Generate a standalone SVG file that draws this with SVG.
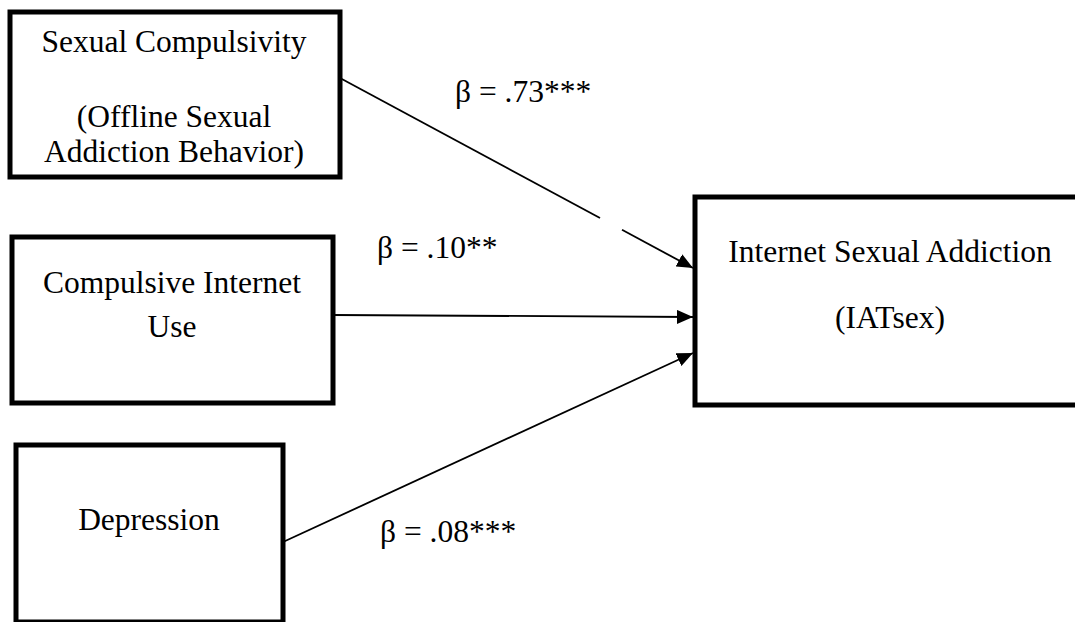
<svg xmlns="http://www.w3.org/2000/svg" width="1075" height="622" viewBox="0 0 1075 622">
<style>
.box{fill:#fff;stroke:#000;stroke-width:5}
.t{font-family:"Liberation Serif","Times New Roman",serif;font-size:31.5px;fill:#000;text-anchor:middle}
.lbl{font-family:"Liberation Serif","Times New Roman",serif;font-size:31.5px;fill:#000}
.edge{stroke:#000;stroke-width:1.8;fill:none}
</style>
<defs>
<marker id="arr" markerUnits="userSpaceOnUse" markerWidth="18" markerHeight="14" refX="16" refY="7" orient="auto">
<path d="M0,0 L16,7 L0,14 Z" fill="#000"/>
</marker>
</defs>
<rect width="1075" height="622" fill="#fff"/>
<g id="n-sexual-compulsivity">
<rect class="box" x="10" y="12" width="330" height="165"/>
<text class="t" x="174" y="52">Sexual Compulsivity</text>
<text class="t" x="174" y="127">(Offline Sexual</text>
<text class="t" x="174" y="162">Addiction Behavior)</text>
</g>
<g id="n-compulsive-internet-use">
<rect class="box" x="12" y="237" width="321" height="166"/>
<text class="t" x="172" y="293">Compulsive Internet</text>
<text class="t" x="172" y="337">Use</text>
</g>
<g id="n-depression">
<rect class="box" x="16" y="445" width="267" height="177"/>
<text class="t" x="149" y="530">Depression</text>
</g>
<g id="n-internet-sexual-addiction">
<rect class="box" x="695" y="197" width="420" height="208"/>
<text class="t" x="890" y="262">Internet Sexual Addiction</text>
<text class="t" x="890" y="328">(IATsex)</text>
</g>
<g id="connectors">
<line class="edge" x1="340" y1="78" x2="600" y2="218"/>
<line class="edge" x1="622" y1="229.8" x2="693" y2="268" marker-end="url(#arr)"/>
<line class="edge" x1="333" y1="315" x2="693" y2="317" marker-end="url(#arr)"/>
<line class="edge" x1="283" y1="542" x2="693" y2="353" marker-end="url(#arr)"/>
</g>
<g id="labels">
<text class="lbl" x="455" y="102">β = .73***</text>
<text class="lbl" x="377" y="258">β = .10**</text>
<text class="lbl" x="380" y="542">β = .08***</text>
</g>
</svg>
